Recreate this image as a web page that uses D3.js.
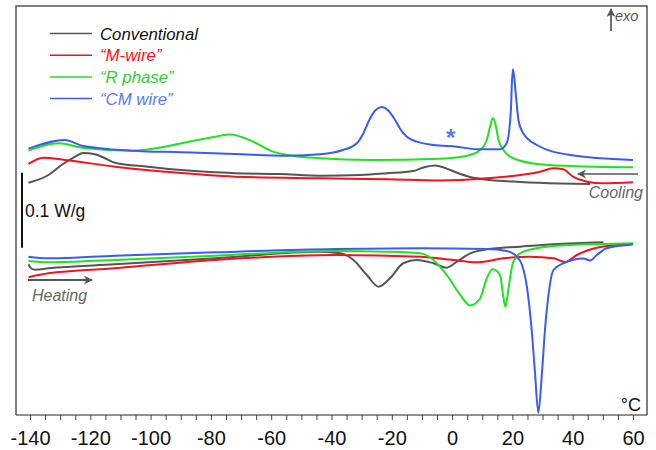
<!DOCTYPE html>
<html>
<head>
<meta charset="utf-8">
<script src="https://cdn.jsdelivr.net/npm/d3@7"></script>
<style>
  body { margin: 0; background: #fff; }
  text { font-family: "Liberation Sans", Arial, sans-serif; }
</style>
</head>
<body>
<div id="chart"></div>
<script>
// DSC curves, temperature in °C, heat flow in mW/g (offset, exo up)
var conventionalCooling = [[-140.5,89.7],[-133.9,100],[-129.5,113.3],[-125,124.4],[-122.4,129.3],[-118.4,127.6],[-115.1,122.3],[-111.8,116.4],[-100.8,111.1],[-89.7,106.7],[-78.6,103.6],[-72,102.3],[-57,101.3],[-43.8,99.1],[-30.5,100],[-21.6,102.3],[-12.9,105.3],[-9,110.7],[-5.6,112.7],[-2.3,109.3],[1,104],[6,97.3],[12.6,93.3],[22.6,90.7],[35.8,88.7],[45.8,88]];
var mWireCooling = [[-140.5,114.7],[-135.6,123.1],[-128.4,120],[-111.8,111.1],[-95.2,104.4],[-72,97.7],[-43.8,95.6],[-21.6,94.3],[-4,92.7],[11.6,95.6],[22.6,100],[29.2,104.4],[33.5,108.9],[36.8,107.6],[40.1,97.7],[44.8,91.1],[50.1,88.9],[60,90.3]];
var rPhaseCooling = [[-140.5,132.4],[-130.6,142.3],[-122.8,136.4],[-106.2,132.4],[-95.2,137.7],[-89.7,142.3],[-78.6,151.1],[-73.6,154],[-66,144.4],[-59.4,131.1],[-54.8,126.7],[-43.8,122.3],[-27.2,120],[-4,121.7],[6,126.7],[9.9,135.6],[11.5,146.7],[12.6,164.4],[13.5,176],[14.3,168.9],[15.4,146.7],[17,133.3],[20.3,122.3],[28.1,114.7],[39.1,112],[60,110.3]];
var cmWireCooling = [[-140.5,135.1],[-128.4,146.7],[-122.8,139.1],[-106.2,132.4],[-89.7,130.3],[-72,128],[-54.8,125.7],[-43.8,127.6],[-36.2,133.3],[-31.6,142.3],[-29.5,155],[-27.5,173],[-25.5,186],[-23.3,190.5],[-21.2,186],[-19,174],[-17,160],[-15,151],[-11.7,144.4],[-6.2,140],[1.6,137.7],[8.2,134.3],[15.9,134.3],[18.1,142.3],[19.5,186.7],[19.8,220],[20.2,240.9],[21.1,208.9],[22,173.3],[23.6,155.6],[28.1,140],[39.1,126.7],[60,120]];

var conventionalHeating = [[-140.5,-19.1],[-139.6,-24.7],[-138.3,-26.3],[-133.9,-24.4],[-111.8,-19.1],[-78.6,-11.1],[-43.8,-2.3],[-37.1,-4.4],[-32.7,-13.3],[-28.3,-33.3],[-24.4,-48.9],[-20.6,-37.7],[-16.2,-17.7],[-11.7,-13.3],[-6.2,-17.7],[-1.8,-23.6],[1.6,-15.6],[6,-4.4],[11.5,0.9],[22.6,4.4],[33.6,7.6],[50.2,10.3]];
var mWireHeating = [[-140.5,-36.4],[-133.9,-31.1],[-111.8,-24.4],[-78.6,-13.3],[-38.8,-6.7],[-10.6,-8.9],[0.4,-13.3],[8.2,-16.4],[17,-11.1],[25.9,-8.9],[33.6,-11.1],[37.5,-16],[41.4,-6.7],[48,3.1],[60,8]];
var rPhaseHeating = [[-140.5,-14.7],[-133.9,-16.4],[-111.8,-13.3],[-78.6,-7.6],[-38.8,-1.3],[-21.7,-2.3],[-10.6,-4.4],[-6.2,-13.3],[-1.8,-33.3],[2.7,-60],[6,-74],[9.3,-64.4],[11.5,-37.7],[13.5,-25.7],[15.9,-33.3],[16.9,-60],[17.7,-75.6],[18.7,-51.1],[20.3,-15.6],[23.6,-2.3],[33.6,5.3],[50.2,8],[60,8.9]];
var cmWireHeating = [[-140.5,-8.9],[-133.9,-11.1],[-111.8,-7.6],[-78.6,-3.1],[-38.8,1.3],[-10.6,2.3],[11.5,1.3],[18.1,-1.3],[21.5,-9],[23.2,-20],[24.8,-48.9],[26.4,-106.7],[27.5,-164],[28.6,-216.9],[29.8,-164],[30.8,-106.7],[31.9,-62.3],[33.6,-26.7],[36.9,-17.7],[43.6,-11.3],[45.8,-14],[48,-6.7],[51.3,2.3],[60,7.3]];

var seriesNames = ["Conventional", "\u201cM-wire\u201d", "\u201cR phase\u201d", "\u201cCM wire\u201d"];
var lineColors = ["#555555", "#f0141e", "#22e022", "#3a5cf0"];
var textColors = ["#111111", "#f0141e", "#33cc33", "#5a7cf0"];
var tickLabels = [-140, -120, -100, -80, -60, -40, -20, 0, 20, 40, 60];

var svgWidth = 656;
var svgHeight = 450;

var svg = d3.select("#chart")
  .append("svg")
  .attr("width", svgWidth)
  .attr("height", svgHeight);

// scales: 0.1 W/g = 75 px
var x = d3.scaleLinear().domain([-140, 60]).range([30, 633]);
var y = d3.scaleLinear().domain([-220, 325.3]).range([415, 6]);

// frame
svg.append("path")
  .attr("d", "M16,415 L16,6 L647,6 L647,415")
  .attr("fill", "none")
  .attr("stroke", "#555")
  .attr("stroke-width", 1.5);

svg.append("line")
  .attr("x1", 16).attr("x2", 647)
  .attr("y1", 415).attr("y2", 415)
  .attr("stroke", "#222")
  .attr("stroke-width", 1.2);

// x axis
var xAxis = d3.axisBottom(x)
  .tickValues(d3.range(-140, 61, 5))
  .tickSize(5)
  .tickSizeOuter(0)
  .tickFormat(d => tickLabels.indexOf(d) >= 0 ? String(d) : "");

var axisG = svg.append("g")
  .attr("transform", "translate(0,415)")
  .call(xAxis);
axisG.select(".domain").remove();
axisG.selectAll(".tick line").attr("stroke", "#444");
axisG.selectAll(".tick text")
  .attr("font-family", "'Liberation Sans', Arial, sans-serif")
  .attr("font-size", "20px")
  .attr("fill", "#111")
  .attr("dy", "0")
  .attr("y", 30);

// curves
var line = d3.line()
  .x(d => x(d[0]))
  .y(d => y(d[1]))
  .curve(d3.curveMonotoneX);

var coolingData = [conventionalCooling, mWireCooling, rPhaseCooling, cmWireCooling];
var heatingData = [conventionalHeating, mWireHeating, rPhaseHeating, cmWireHeating];

coolingData.forEach(function(d, i) {
  svg.append("path").datum(d)
    .attr("d", line)
    .attr("fill", "none")
    .attr("stroke", lineColors[i])
    .attr("stroke-width", 2);
  svg.append("path").datum(heatingData[i])
    .attr("d", line)
    .attr("fill", "none")
    .attr("stroke", lineColors[i])
    .attr("stroke-width", 2);
});

// legend
var legend = svg.append("g");
seriesNames.forEach(function(name, i) {
  var ly = 33.5 + i * 21.7;
  legend.append("line")
    .attr("x1", 50).attr("x2", 92)
    .attr("y1", ly).attr("y2", ly)
    .attr("stroke", lineColors[i])
    .attr("stroke-width", 1.5);
  legend.append("text")
    .attr("x", 100).attr("y", ly + 6)
    .attr("font-size", "16.8px")
    .attr("font-style", "italic")
    .attr("fill", textColors[i])
    .text(name);
});

// arrows
var defs = svg.append("defs");
defs.append("marker")
  .attr("id", "arrow")
  .attr("viewBox", "0 0 10 10")
  .attr("refX", 9).attr("refY", 5)
  .attr("markerWidth", 11).attr("markerHeight", 9)
  .attr("markerUnits", "userSpaceOnUse")
  .attr("orient", "auto")
  .append("path")
  .attr("d", "M0,0 L10,5 L0,10 L3,5 Z")
  .attr("fill", "#555");

svg.append("line")
  .attr("x1", 638).attr("x2", 578)
  .attr("y1", 174).attr("y2", 174)
  .attr("stroke", "#555").attr("stroke-width", 1.6)
  .attr("marker-end", "url(#arrow)");

svg.append("line")
  .attr("x1", 28).attr("x2", 92)
  .attr("y1", 280).attr("y2", 280)
  .attr("stroke", "#555").attr("stroke-width", 1.8)
  .attr("marker-end", "url(#arrow)");

svg.append("line")
  .attr("x1", 611).attr("x2", 611)
  .attr("y1", 31).attr("y2", 9)
  .attr("stroke", "#333").attr("stroke-width", 1.4)
  .attr("marker-end", "url(#arrow)");

svg.append("text")
  .attr("x", 615).attr("y", 21)
  .attr("font-size", "14.5px")
  .attr("font-style", "italic")
  .attr("fill", "#555")
  .text("exo");

svg.append("text")
  .attr("x", 643).attr("y", 198)
  .attr("text-anchor", "end")
  .attr("font-size", "16px")
  .attr("font-style", "italic")
  .attr("fill", "#666")
  .text("Cooling");

svg.append("text")
  .attr("x", 32).attr("y", 301)
  .attr("font-size", "16px")
  .attr("font-style", "italic")
  .attr("fill", "#666")
  .text("Heating");

// scale bar 0.1 W/g
svg.append("line")
  .attr("x1", 22).attr("x2", 22)
  .attr("y1", y(103)).attr("y2", y(3))
  .attr("stroke", "#111").attr("stroke-width", 2);

svg.append("text")
  .attr("x", 25).attr("y", 217)
  .attr("font-size", "17.5px")
  .attr("fill", "#111")
  .text("0.1 W/g");

svg.append("text")
  .attr("x", 641).attr("y", 411)
  .attr("text-anchor", "end")
  .attr("font-size", "18px")
  .attr("fill", "#111")
  .text("\u00b0C");

// asterisk marking the CM wire shoulder
svg.append("text")
  .attr("x", x(-0.5)).attr("y", 146)
  .attr("text-anchor", "middle")
  .attr("font-size", "24px")
  .attr("font-weight", "bold")
  .attr("fill", "#5a7cf0")
  .text("*");
</script>
</body>
</html>
